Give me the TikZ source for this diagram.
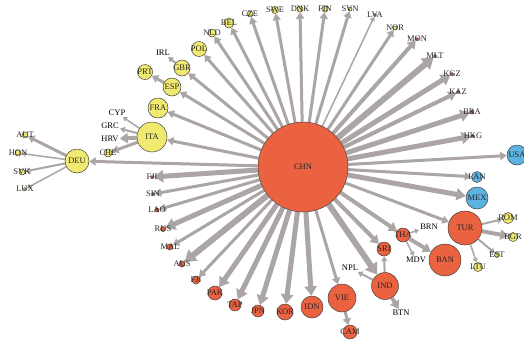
\documentclass[tikz,border=0pt]{standalone}
\usepackage{fontspec}
\setmainfont{Liberation Serif}
\usetikzlibrary{arrows.meta, backgrounds}

\definecolor{redc}{RGB}{234,98,64}
\definecolor{yelc}{RGB}{241,234,112}
\definecolor{bluc}{RGB}{92,178,224}
\definecolor{edgec}{RGB}{172,165,165}

\tikzset{
  cty/.style={circle, draw=black!75, line width=0.5pt, fill=#1, inner sep=0pt},
  txt/.style={inner sep=1pt},
  flow/.style={draw=edgec, line width=#1, -{Triangle[length=2pt 1.5, width=2pt 2]}},
  every label/.style={inner sep=0pt, text=black!85},
}

\begin{document}
\begin{tikzpicture}[x=1pt, y=-1pt, font=\fontsize{8.5}{9}\selectfont]
\useasboundingbox (0,0) rectangle (524,341);

% hub
\node[cty=redc, minimum size=90pt, label=center:CHN] (chn) at (303,167) {};

% Europe (yellow)
\foreach \n/\t/\x/\y/\d in {deu/DEU/77/161/24, ita/ITA/152/137/30, fra/FRA/158/108/20,
    esp/ESP/172/87/18, prt/PRT/145/72/15, gbr/GBR/182/68/16, pol/POL/199/49/15,
    nld/NLD/212/33/8, bel/BEL/229/23/10, cze/CZE/250/14/6, swe/SWE/275/10/7,
    dnk/DNK/300/9/6, fin/FIN/325/9/6, svn/SVN/350/9/4, lva/LVA/375/15/3,
    nor/NOR/395/28/4, aut/AUT/25/135/6, hon/HON/18/153/6, svk/SVK/22/172/6,
    lux/LUX/25/189/3, che/CHE/108/153/8, rom/ROM/508/218/11, bgr/BGR/513/237/9,
    est/EST/497/255/5, ltu/LTU/478/267/9} {
  \node[cty=yelc, minimum size=\d pt, label=center:\t] (\n) at (\x,\y) {};
}

% Americas (blue)
\foreach \n/\t/\x/\y/\d in {usa/USA/517/155/20, lan/LAN/477/177/11, mex/MEX/477/198/22} {
  \node[cty=bluc, minimum size=\d pt, label=center:\t] (\n) at (\x,\y) {};
}

% Asia and others (red)
\foreach \n/\t/\x/\y/\d in {mon/MON/417/39/3, mlt/MLT/435/56/3, kgz/KGZ/452/74/3,
    kaz/KAZ/458/92/3, bra/BRA/472/112/4, hkg/HKG/473/136/3, tur/TUR/465/228/34,
    ban/BAN/445/260/32, tha/THA/403/235/14, sri/SRI/384/249/14, ind/IND/385/286/27,
    vie/VIE/342/298/28, cam/CAM/350/332/14, idn/IDN/312/307/22, kor/KOR/285/312/16,
    jpn/JPN/258/311/12, tap/TAP/235/305/12, pak/PAK/215/293/14, fjib/FJI/196/280/8,
    aus/AUS/182/264/6, mal/MAL/170/247/6, rus/RUS/163/229/5, lao/LAO/157/210/4,
    sin/SIN/153/194/3, fjia/FJI/152/177/3} {
  \node[cty=redc, minimum size=\d pt, label=center:\t] (\n) at (\x,\y) {};
}

% text only
\node[txt] (irl) at (163,53) {IRL};
\node[txt] (cyp) at (117,113) {CYP};
\node[txt] (grc) at (110,126) {GRC};
\node[txt] (hrv) at (110,139) {HRV};
\node[txt] (brn) at (429,227) {BRN};
\node[txt] (mdv) at (416,260) {MDV};
\node[txt] (npl) at (350,268) {NPL};
\node[txt] (btn) at (401,313) {BTN};

\begin{scope}[on background layer]
% out of CHN
\foreach \n/\w in {deu/3, ita/3, fra/3, esp/3, gbr/3, pol/3, nld/3, bel/3, cze/3,
    swe/3, dnk/3, fin/3, svn/3, lva/1.5, nor/3, mon/4, mlt/6, kgz/5, kaz/4, bra/5,
    hkg/5, usa/3, lan/3, mex/5, tur/3, tha/4, sri/4, ind/6, vie/3, idn/5, kor/5,
    jpn/5, tap/5, pak/5, fjib/3, aus/6, mal/3, rus/5, lao/3, sin/3, fjia/5} {
  \draw[flow=\w pt] (chn) -- (\n);
}
% second step
\foreach \a/\b/\w in {deu/aut/3, deu/hon/1.5, deu/svk/2, deu/lux/1.5,
    ita/cyp/1.5, ita/grc/2, ita/hrv/4, ita/che/3, esp/prt/3, gbr/irl/2,
    ind/npl/2, ind/sri/2, ind/btn/4, tha/brn/1.5, tha/mdv/1.5, tha/ban/4,
    tur/rom/2, tur/bgr/4, tur/est/2, tur/ltu/1.5, vie/cam/3} {
  \draw[flow=\w pt] (\a) -- (\b);
}
\end{scope}

\end{tikzpicture}
\end{document}
